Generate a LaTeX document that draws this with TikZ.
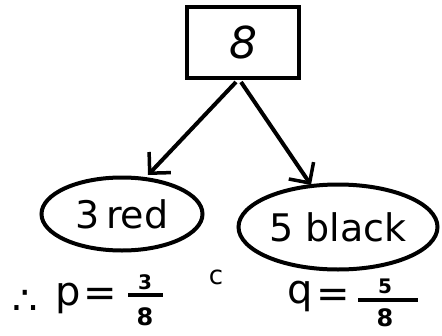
\documentclass[tikz,border=0pt]{standalone}
\usepackage{fontspec}
\setsansfont{DejaVu Sans}
\usetikzlibrary{arrows.meta,shapes.geometric}
\begin{document}
\begin{tikzpicture}[x=1pt,y=-1pt,
  ink/.style={line width=4pt,black},
  lbl/.style={font=\sffamily\fontsize{38}{42}\selectfont},
  big/.style={font=\sffamily\fontsize{40}{44}\selectfont,inner sep=0pt},
  small/.style={font=\sffamily\bfseries\fontsize{20}{22}\selectfont,inner sep=0pt},
  den/.style={font=\sffamily\bfseries\fontsize{24}{26}\selectfont,inner sep=0pt},
  arr/.style={ink,-{Straight Barb[length=15pt,width=30pt,line width=3.5pt]}}]
\useasboundingbox (0,0) rectangle (442,335);
\node[ink,draw,minimum width=112pt,minimum height=71pt,font=\sffamily\itshape\fontsize{44}{48}\selectfont] (top) at (243,42) {8};
\node[ink,draw,ellipse,minimum width=161pt,minimum height=73pt,lbl,inner sep=0pt] (red) at (122,214) {3\,red};
\node[ink,draw,ellipse,minimum width=199pt,minimum height=85pt,lbl,inner sep=0pt] (black) at (338,227) {5 black};
\coordinate (s1) at (236,82);
\coordinate (s2) at (241,82);
\coordinate (t1) at (148,175);
\coordinate (t2) at (311,185);
\draw[arr] (s1) -- (t1);
\draw[arr] (s2) -- (t2);
% p = 3/8
\node[big] (th) at (25,302) {∴};
\node[big] (p) at (68,298) {p};
\node[big] (eq1) at (100,297) {=};
\node[small] (n1) at (145,282) {3};
\node[den] (d1) at (145,317) {8};
\draw[ink] (128,295) coordinate (b1a) -- (163,295) coordinate (b1b);
% c
\node[font=\sffamily\fontsize{26}{28}\selectfont,inner sep=0pt] (c) at (216,277) {c};
% q = 5/8
\node[big] (q) at (300,296) {q};
\node[big] (eq2) at (333,298) {=};
\node[small] (n2) at (385,286) {5};
\node[den] (d2) at (385,318) {8};
\draw[ink] (358,300) coordinate (b2a) -- (418,300) coordinate (b2b);
\end{tikzpicture}
\end{document}
